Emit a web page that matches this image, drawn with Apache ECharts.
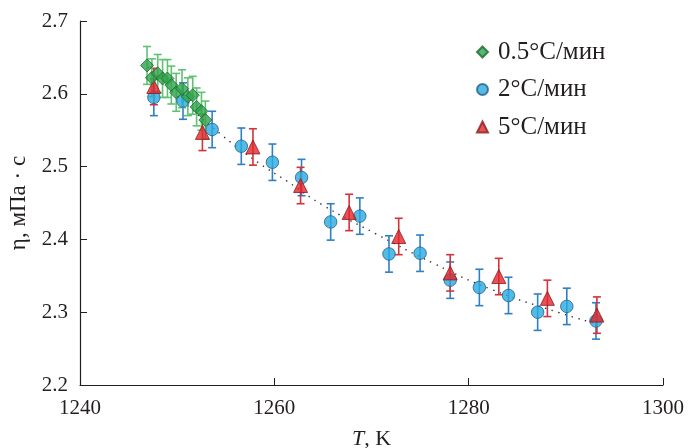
<!DOCTYPE html>
<html><head><meta charset="utf-8">
<script src="https://cdn.jsdelivr.net/npm/echarts@6/dist/echarts.min.js"></script>
<style>html,body{margin:0;padding:0;background:#fff}#c{width:690px;height:448px}</style>
</head><body><div id="c"></div>
<script>
// ---- data ----
const seriesNames = ['0.5°C/мин', '2°C/мин', '5°C/мин'];
const greenT = [1246.9, 1247.4, 1248.0, 1248.5, 1249.0, 1249.4, 1249.9, 1250.5, 1251.1, 1251.6, 1252.0, 1252.5, 1252.9];
const greenEta = [2.639, 2.622, 2.628, 2.621, 2.621, 2.612, 2.602, 2.607, 2.596, 2.598, 2.582, 2.576, 2.564];
const greenErr = [0.026, 0.026, 0.026, 0.026, 0.026, 0.026, 0.026, 0.026, 0.026, 0.026, 0.026, 0.026, 0.026];
const blueT = [1247.6, 1250.6, 1253.6, 1256.6, 1259.8, 1262.8, 1265.8, 1268.8, 1271.8, 1275.0, 1278.1, 1281.1, 1284.1, 1287.1, 1290.1, 1293.1];
const blueEta = [2.595, 2.590, 2.551, 2.528, 2.506, 2.485, 2.424, 2.432, 2.380, 2.381, 2.344, 2.334, 2.323, 2.300, 2.308, 2.288];
const blueErr = [0.025, 0.025, 0.025, 0.025, 0.025, 0.025, 0.025, 0.025, 0.025, 0.025, 0.025, 0.025, 0.025, 0.025, 0.025, 0.025];
const redT = [1247.6, 1252.6, 1257.8, 1262.7, 1267.7, 1272.8, 1278.1, 1283.1, 1288.1, 1293.2];
const redEta = [2.610, 2.547, 2.527, 2.474, 2.437, 2.404, 2.354, 2.349, 2.319, 2.296];
const redErr = [0.025, 0.025, 0.025, 0.025, 0.025, 0.025, 0.025, 0.025, 0.025, 0.025];
const fitT = [1247.0, 1250.0, 1254.8, 1258.4, 1261.3, 1265.0, 1270.4, 1276.4, 1282.4, 1289.4, 1293.2];
const fitEta = [2.637, 2.597, 2.541, 2.505, 2.480, 2.447, 2.408, 2.367, 2.331, 2.299, 2.284];
const xTicks = [1240, 1260, 1280, 1300];
const yTicks = [2.2, 2.3, 2.4, 2.5, 2.6, 2.7];

// ---- build ----
const font = 'Liberation Serif';
const ink = '#231f20';
const pts = (xs, ys) => xs.map((x, i) => [x, ys[i]]);
const errData = (xs, ys, es) => xs.map((x, i) => [x, ys[i], ys[i] - es[i], ys[i] + es[i]]);
function errSeries(xs, ys, es, color, z) {
  return {
    type: 'custom', z: z, silent: true,
    data: errData(xs, ys, es),
    renderItem: function (params, api) {
      const x = api.value(0);
      const lo = api.coord([x, api.value(2)]);
      const hi = api.coord([x, api.value(3)]);
      const w = 4;
      const st = { stroke: color, lineWidth: 1.6 };
      return { type: 'group', children: [
        { type: 'line', shape: { x1: lo[0], y1: lo[1], x2: hi[0], y2: hi[1] }, style: st },
        { type: 'line', shape: { x1: lo[0] - w, y1: lo[1], x2: lo[0] + w, y2: lo[1] }, style: st },
        { type: 'line', shape: { x1: hi[0] - w, y1: hi[1], x2: hi[0] + w, y2: hi[1] }, style: st }
      ]};
    }
  };
}
const chart = echarts.init(document.getElementById('c'), null, { renderer: 'canvas' });
chart.setOption({
  animation: false,
  backgroundColor: '#fff',
  grid: { left: 80, right: 27, top: 21, bottom: 63, outerBoundsMode: 'none', containLabel: false },
  legend: {
    left: 471, top: 34.5, orient: 'vertical', itemGap: 12.5,
    itemWidth: 11, itemHeight: 11,
    data: seriesNames.map(n => ({ name: n })),
    textStyle: { fontFamily: font, fontSize: 25, color: ink, padding: [0, 0, 0, 5] }
  },
  xAxis: {
    type: 'value', min: 1240, max: 1300, interval: 20,
    name: '{i|T}, K', nameLocation: 'middle', nameGap: 43,
    nameTextStyle: { fontFamily: font, fontSize: 22, color: ink, rich: { i: { fontStyle: 'italic', fontFamily: font, fontSize: 22, color: ink } } },
    axisLine: { onZero: false, lineStyle: { color: ink, width: 1.2 } },
    axisTick: { inside: true, length: 7, lineStyle: { color: ink } },
    axisLabel: { fontFamily: font, fontSize: 21, color: ink, margin: 13,
      formatter: v => String(v) },
    splitLine: { show: false }
  },
  yAxis: {
    type: 'value', min: 2.2, max: 2.7, interval: 0.1,
    name: 'η, мПа · с', nameLocation: 'middle', nameGap: 50, nameRotate: 90,
    nameTextStyle: { fontFamily: font, fontSize: 23, color: ink },
    axisLine: { show: true, onZero: false, lineStyle: { color: ink, width: 1.2 } },
    axisTick: { inside: true, length: 7, lineStyle: { color: ink } },
    axisLabel: { fontFamily: font, fontSize: 21, color: ink, margin: 12,
      formatter: v => v.toFixed(1) },
    splitLine: { show: false }
  },
  series: [
    { type: 'line', data: pts(fitT, fitEta), smooth: true, symbol: 'none', z: 1, silent: true,
      lineStyle: { color: '#333', width: 1.4, type: [1.4, 5.5] } },
    errSeries(blueT, blueEta, blueErr, '#2f7fc4', 2),
    errSeries(redT, redEta, redErr, '#d2343a', 2),
    errSeries(greenT, greenEta, greenErr, '#5fc272', 2),
    { name: seriesNames[1], type: 'scatter', z: 3, data: pts(blueT, blueEta), symbol: 'circle', symbolSize: 12.5,
      itemStyle: { color: '#29aae1', borderColor: '#245f88', borderWidth: 1 } },
    { name: seriesNames[2], type: 'scatter', z: 4, data: pts(redT, redEta), symbol: 'triangle', symbolSize: 14,
      itemStyle: { color: '#e3262c', borderColor: '#8a1d1d', borderWidth: 1 } },
    { name: seriesNames[0], type: 'scatter', z: 5, data: pts(greenT, greenEta), symbol: 'diamond', symbolSize: 13,
      itemStyle: { color: '#2fa44b', borderColor: '#1a6a2e', borderWidth: 1 } }
  ]
});
</script></body></html>
